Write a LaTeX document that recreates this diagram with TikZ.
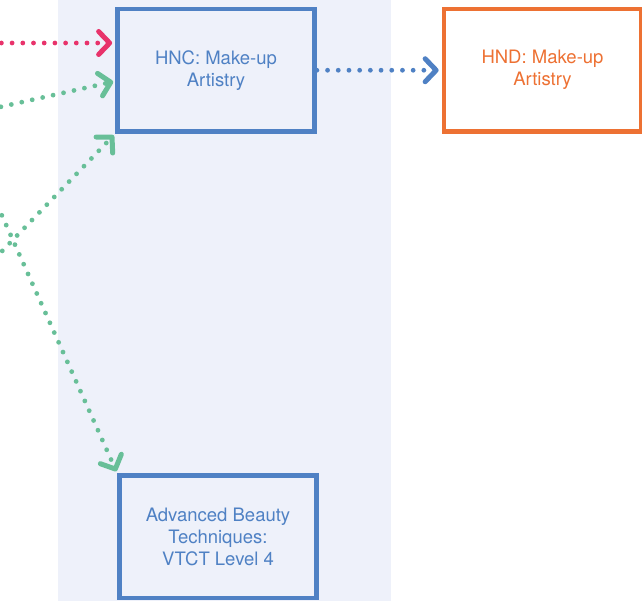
\documentclass[tikz,border=0pt]{standalone}
\usepackage{fontspec}
\setmainfont{TeX Gyre Heros}
\usetikzlibrary{arrows.meta}
\definecolor{bandbg}{HTML}{EEF1FA}
\definecolor{unitblue}{HTML}{4F81C4}
\definecolor{unitorange}{HTML}{ED7133}
\definecolor{linkpink}{HTML}{E8336B}
\definecolor{linkgreen}{HTML}{68BF98}
\begin{document}
\begin{tikzpicture}[x=1pt, y=-1pt,
    font=\fontsize{18.5}{22}\selectfont,
    unit/.style={draw, line width=4.7pt, minimum width=197pt, minimum height=122.5pt, align=center},
    link/.style={line width=4.8pt, line cap=round, dash pattern=on 0pt off 10.7pt,
      -{Straight Barb[length=11pt, width=23pt, line width=5pt, round]}}]
    \clip (0,0) rectangle (642,601);
    \fill[bandbg] (58,0) rectangle (391,601);

    \node[unit, draw=unitblue, text=unitblue] (hnc) at (216,70.25) {HNC: Make-up\\Artistry};
    \node[unit, draw=unitorange, text=unitorange] (hnd) at (542.5,70.25) {HND: Make-up\\Artistry};
    \node[unit, draw=unitblue, text=unitblue] (adv) at (218,536.75) {Advanced Beauty\\Techniques:\\VTCT Level 4};

    % incoming routes from the left
    \coordinate (srcA) at (-20,43);
    \coordinate (srcB) at (-20,111.5);
    \coordinate (srcC) at (-20,274);
    \coordinate (srcD) at (-20,166.5);

    \draw[link, linkpink, shorten >=3pt] (srcA) -- (srcA -| hnc.west);
    \draw[link, linkgreen, shorten >=2pt] (srcB) -- ([yshift=-11pt]hnc.west);
    \draw[link, linkgreen, shorten >=2pt] (srcC) -- (hnc.south west);
    \draw[link, linkgreen, shorten >=2pt] (srcD) -- (adv.north west);
    \draw[link, unitblue, shorten >=3pt] (hnc.east) -- (hnd.west);
\end{tikzpicture}
\end{document}
